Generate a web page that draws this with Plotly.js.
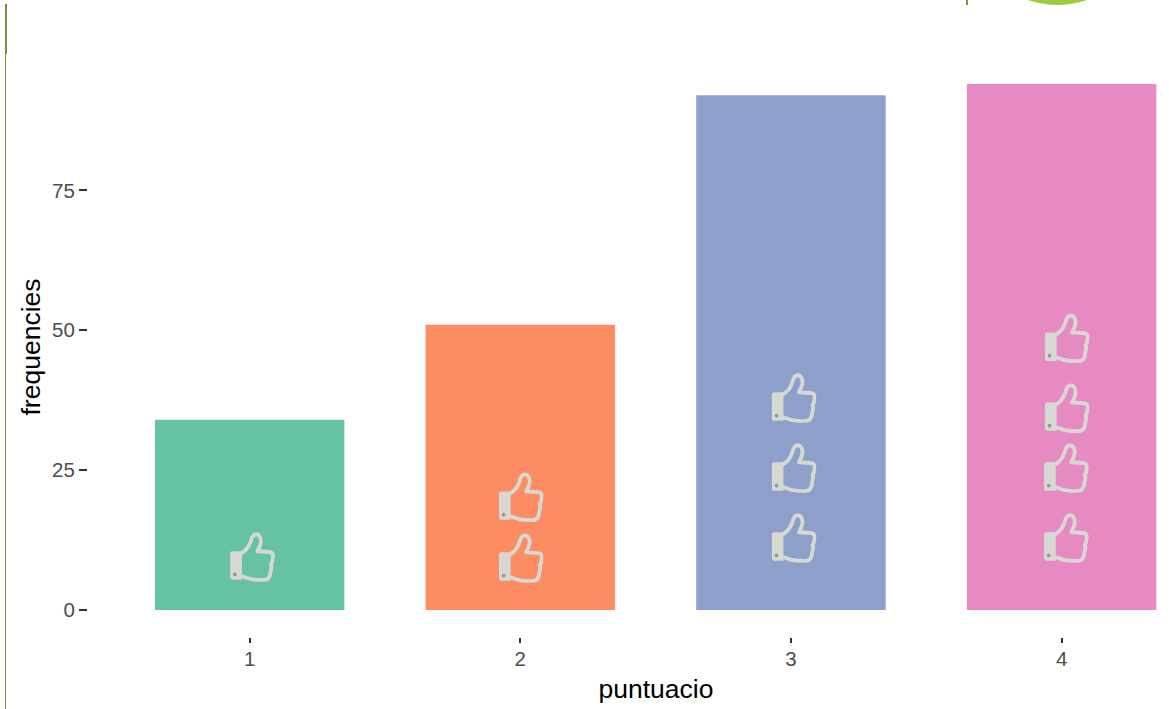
<!DOCTYPE html>
<html><head><meta charset="utf-8">
<script src="https://cdn.plot.ly/plotly-3.0.1.min.js"></script>
<style>html,body{margin:0;padding:0;background:#fff;overflow:hidden;width:1169px;height:709px}#c{width:1224px;height:709px}</style>
</head><body><div id="c"></div>
<script>
const categories = [1, 2, 3, 4];
const frequencies = [34, 51, 92, 94];
const barColors = ['#66c2a5', '#fc8d62', '#8da0cb', '#e78ac3'];
const tickValuesY = [0, 25, 50, 75];
const thumbX = [1.01, 2.003, 2.003, 3.011, 3.011, 3.011, 4.017, 4.017, 4.02, 4.02];
const thumbY = [9.5, 9.3, 20.2, 12.9, 25.4, 37.9, 12.9, 25.4, 36.1, 48.6];

const thumbSvg = '<svg xmlns="http://www.w3.org/2000/svg" viewBox="0 0 45 48">' +
 '<path d="M0.3 21 Q0.3 18.6 2.6 18.6 L12 18.6 L12 46 L2.6 46 Q0.3 46 0.3 44 Z" fill="#d8d8d2"/>' +
 '<path d="M11.5 20.5 C15.5 18.5 19 14 20.7 9.5 C21.5 6 22.5 2.4 26 2.2 C29.5 2.1 31.4 6 31 10 C30.6 13 28.8 16 27.6 18.6 L39.5 19.3 C42.5 19.6 43.6 21.6 43.2 24 L42.3 29 L41 31 L41.8 33 L40.8 38 C40.4 43 38.5 46.2 34.5 46.3 C28 46.6 20 45.8 15 43.6 L11.5 42.6" fill="none" stroke="#d8d8d2" stroke-width="3.8" stroke-linejoin="round" stroke-linecap="round"/>' +
 '<circle cx="5" cy="41" r="1.8" fill="#8a9a94"/></svg>';
const thumbUri = 'data:image/svg+xml;charset=utf-8,' + encodeURIComponent(thumbSvg);

const images = thumbX.map((x, i) => ({
  source: thumbUri, xref: 'x', yref: 'y', x: x, y: thumbY[i],
  sizex: 0.166, sizey: 8.9, sizing: 'stretch', xanchor: 'center', yanchor: 'middle', layer: 'above'
}));

const olive = '#8b8647';
const L = 88, B = 637, W = 1136, H = 580;
const px = v => (v - L) / W;
const py = v => (B - v) / H;
const shapes = [
  {type:'rect', xref:'paper', yref:'paper', x0:px(5), x1:px(7), y0:py(54), y1:py(4), fillcolor:olive, line:{width:0}},
  {type:'rect', xref:'paper', yref:'paper', x0:px(5), x1:px(6), y0:py(709), y1:py(54), fillcolor:olive, line:{width:0}},
  {type:'rect', xref:'paper', yref:'paper', x0:px(966), x1:px(968), y0:py(5), y1:py(0), fillcolor:olive, line:{width:0}},
  {type:'circle', xref:'paper', yref:'paper', x0:px(968), x1:px(1147), y0:py(5), y1:py(-174), fillcolor:'#9ccb3b', line:{width:0}}
];

Plotly.newPlot('c', [{
  type: 'bar', x: categories, y: frequencies, width: 0.7,
  marker: {color: barColors, line: {width: 0}}, hoverinfo: 'x+y'
}], {
  width: 1224, height: 709,
  margin: {l: L, r: 0, t: 57, b: 72},
  paper_bgcolor: '#fff', plot_bgcolor: '#fff',
  showlegend: false,
  font: {family: '"Liberation Sans", Arial, sans-serif'},
  xaxis: {
    range: [0.4027, 4.6], tickvals: categories, ticktext: categories.map(String),
    showgrid: false, zeroline: false, showline: false,
    ticks: 'outside', ticklen: 5, tickwidth: 1.5, tickcolor: '#333', ticklabelstandoff: -2,
    tickfont: {size: 20.5, color: '#4d4d4d'},
    title: {text: 'puntuacio', font: {size: 26.5, color: '#000'}, standoff: 10}, automargin: false
  },
  yaxis: {
    range: [-4.826, 98.84], tickvals: tickValuesY,
    showgrid: false, zeroline: false, showline: false,
    ticks: 'outside', ticklen: 8, tickwidth: 1.5, tickcolor: '#333',
    tickfont: {size: 20.5, color: '#4d4d4d'},
    title: {text: 'frequencies', font: {size: 26.5, color: '#000'}, standoff: 3}, automargin: false
  },
  images: images, shapes: shapes
}, {displayModeBar: false, responsive: false});
</script></body></html>
